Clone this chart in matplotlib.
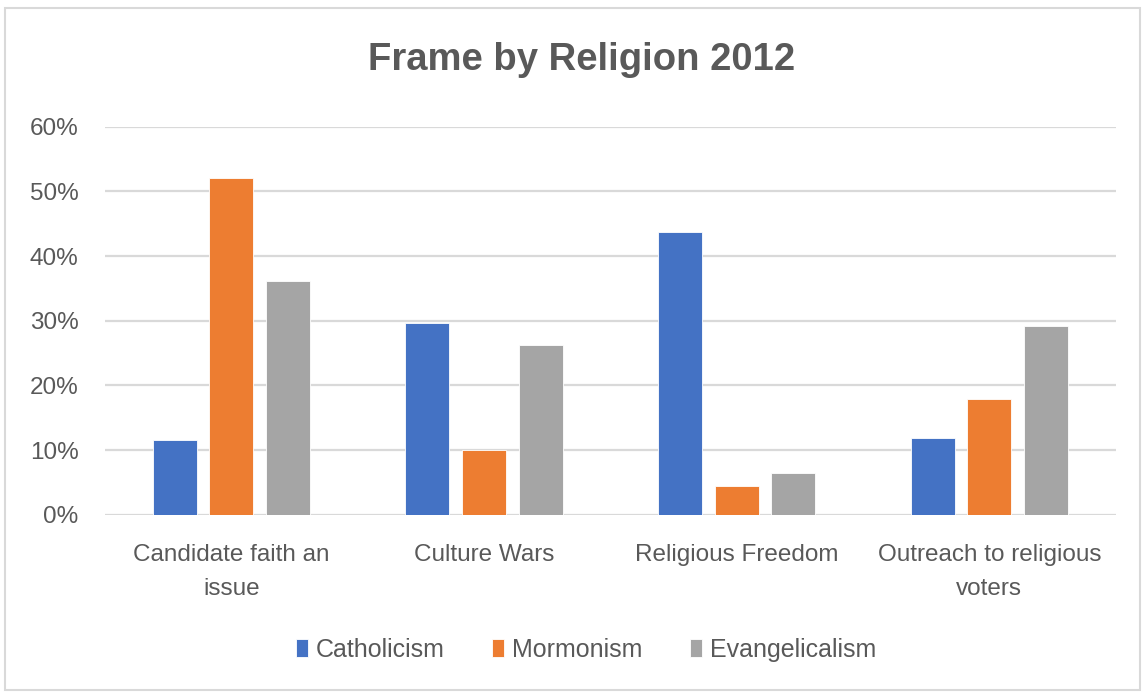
import numpy as np
import matplotlib.pyplot as plt
from matplotlib.patches import Rectangle
from matplotlib.ticker import PercentFormatter

# frames and shares of coverage per religion
frames = ['Candidate faith an\nissue', 'Culture Wars', 'Religious Freedom',
          'Outreach to religious\nvoters']
catholicism = [11.5, 29.7, 43.7, 11.8]
mormonism = [52.0, 10.0, 4.4, 17.9]
evangelicalism = [36.1, 26.2, 6.4, 29.2]
series_names = ['Catholicism', 'Mormonism', 'Evangelicalism']
series_colors = ['#4472C4', '#ED7D31', '#A5A5A5']

plt.rcParams['font.family'] = ['Liberation Sans', 'DejaVu Sans']
text_gray = '#595959'

fig = plt.figure(figsize=(11.42, 6.92), dpi=100)
ax = fig.add_axes([0.092, 0.256, 0.885, 0.561])

# light frame around the whole chart
fig.patches.append(Rectangle((0.004, 0.003), 0.994, 0.985, transform=fig.transFigure,
                             fill=False, edgecolor='#d9d9d9', linewidth=1.5))

x = np.arange(len(frames))
width = 0.174
step = 0.224
for i, (vals, name, col) in enumerate(zip([catholicism, mormonism, evangelicalism],
                                           series_names, series_colors)):
    ax.bar(x + (i - 1) * step, vals, width, color=col, label=name,
           edgecolor='white', linewidth=0.6, zorder=3)

ax.set_xlim(-0.5, len(frames) - 0.5)
ax.set_ylim(0, 60)
ax.set_yticks(np.arange(0, 61, 10))
ax.yaxis.set_major_formatter(PercentFormatter(decimals=0))
ax.grid(axis='y', color='#d9d9d9', linewidth=1.6, zorder=0)
ax.set_xticks(x)
ax.set_xticklabels(frames, linespacing=1.7)
ax.tick_params(axis='both', length=0, labelsize=17.5, labelcolor=text_gray)
ax.tick_params(axis='x', pad=21)
ax.tick_params(axis='y', pad=19)
for s in ax.spines.values():
    s.set_visible(False)

fig.text(0.509, 0.913, 'Frame by Religion 2012', ha='center', va='center',
         fontsize=27.5, fontweight='bold', color=text_gray)

leg = fig.legend(loc='center', bbox_to_anchor=(0.513, 0.061), ncol=3, frameon=False,
                 fontsize=18, handlelength=0.5, handleheight=0.72, handletextpad=0.3,
                 columnspacing=1.9)
for t in leg.get_texts():
    t.set_color(text_gray)

fig.savefig('out.png', dpi=100)
